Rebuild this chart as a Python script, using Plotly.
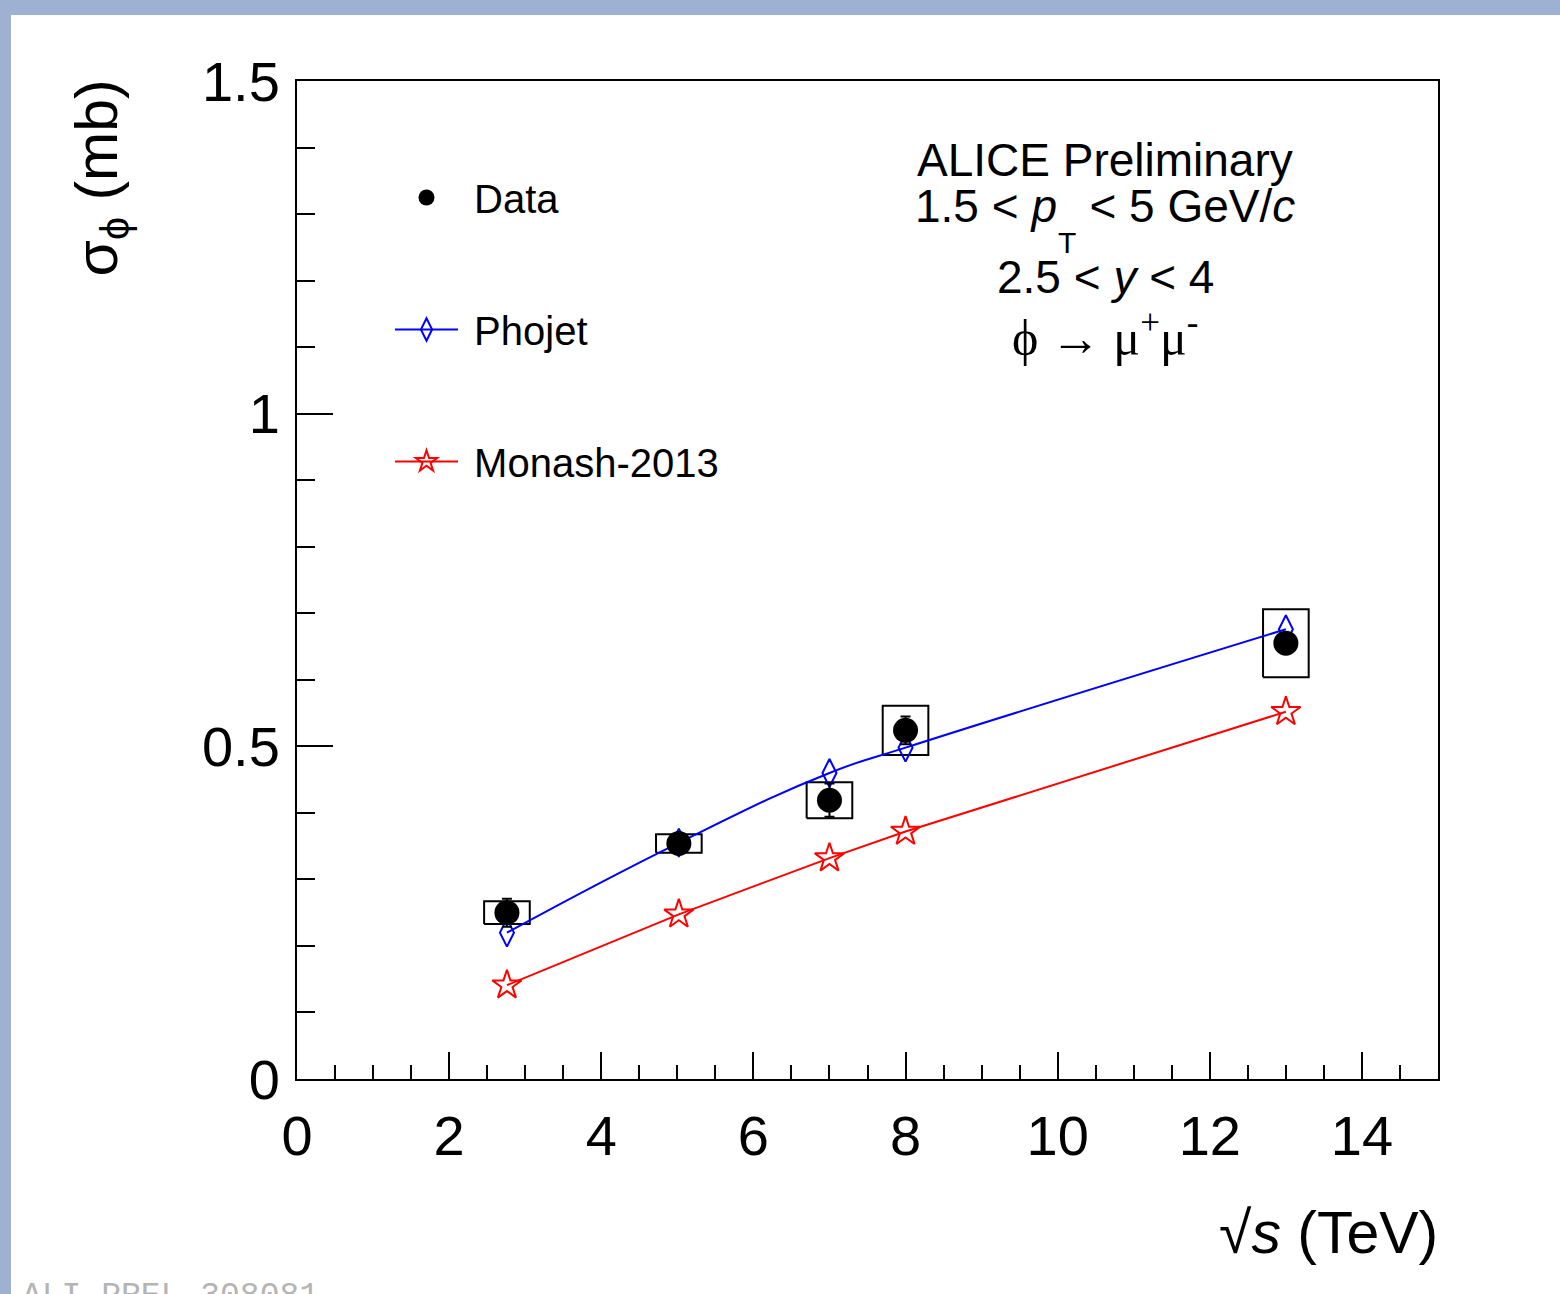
import plotly.graph_objects as go

# ---------------- data ----------------
sqrt_s = [2.76, 5.02, 7.0, 8.0, 13.0]
data_sigma = [0.250, 0.354, 0.419, 0.524, 0.655]
data_stat = [0.021, 0.012, 0.025, 0.021, 0.012]
data_syst = [0.017, 0.014, 0.027, 0.037, 0.051]
phojet_sigma = [0.220, 0.355, 0.460, 0.498, 0.676]
monash_sigma = [0.141, 0.2475, 0.332, 0.372, 0.552]

# ---------------- style ----------------
FONT = "Liberation Sans, Arial, Helvetica, sans-serif"
SERIF = "Liberation Serif, Times New Roman, serif"
BOX_HALF_WIDTH = 0.3
W, H = 1560, 1294
L, R, T, B = 297, 122, 81, 215
PW, PH = W - L - R, H - T - B
NB = "\u00a0"


def px_x(p):
    return (p - L) / PW


def px_y(p):
    return 1 - (p - T) / PH


# systematic boxes built from data arrays
bx, by = [], []
for x, y, s in zip(sqrt_s, data_sigma, data_syst):
    bx += [x - BOX_HALF_WIDTH, x + BOX_HALF_WIDTH, x + BOX_HALF_WIDTH, x - BOX_HALF_WIDTH, x - BOX_HALF_WIDTH, None]
    by += [y - s, y - s, y + s, y + s, y - s, None]

fig = go.Figure()

fig.add_trace(go.Scatter(
    x=bx, y=by, mode="lines", line=dict(color="black", width=2),
    showlegend=False, hoverinfo="skip"))

fig.add_trace(go.Scatter(
    x=sqrt_s, y=phojet_sigma, mode="lines+markers", name=NB + "Phojet",
    legendgroup="b", legendrank=2,
    line=dict(color="#0000ff", width=2, shape="spline", smoothing=1.3),
    marker=dict(symbol="diamond-tall-open", size=20, color="#0000ff", line=dict(width=2, color="#0000ff"))))

fig.add_trace(go.Scatter(
    x=sqrt_s, y=monash_sigma, mode="lines+markers", name=NB + "Monash-2013",
    legendgroup="c", legendrank=3,
    line=dict(color="#ff0000", width=2),
    marker=dict(symbol="star-open", size=22, color="#ff0000", line=dict(width=2, color="#ff0000"))))

fig.add_trace(go.Scatter(
    x=sqrt_s, y=data_sigma, mode="markers", name=NB + "Data",
    legendgroup="a", legendrank=1,
    marker=dict(symbol="circle", size=25, color="black"),
    error_y=dict(type="data", array=data_stat, color="black", thickness=2, width=5)))

axis_common = dict(
    showline=True, linewidth=2, linecolor="black", mirror=True,
    showgrid=False, zeroline=False, ticks="inside", tickwidth=2, tickcolor="black",
    tickfont=dict(family=FONT, size=56, color="black"),
)

fig.update_xaxes(range=[0, 15], tick0=0, dtick=2, ticklen=27, ticklabelstandoff=7,
                 minor=dict(dtick=0.5, ticklen=14, ticks="inside", tickwidth=2, tickcolor="black"),
                 **axis_common)
fig.update_yaxes(range=[0, 1.5], tick0=0, dtick=0.5, ticklen=36, ticklabelstandoff=4,
                 minor=dict(dtick=0.1, ticklen=18, ticks="inside", tickwidth=2, tickcolor="black"),
                 **axis_common)

hidden_T = '<sub><span style="color:rgba(0,0,0,0)">T</span></sub>'
annotations = [
    dict(text="ALICE Preliminary", x=px_x(1105), y=px_y(160), size=46, family=FONT),
    dict(text="1.5 < <i>p</i>" + hidden_T + " < 5 GeV/<i>c</i>", x=px_x(1105), y=px_y(210), size=46, family=FONT),
    dict(text="T", x=px_x(1067), y=px_y(242), size=30, family=FONT),
    dict(text="2.5 < <i>y</i> < 4", x=px_x(1105), y=px_y(277), size=46, family=FONT),
    dict(text="ϕ → μ<sup>+</sup>μ<sup>-</sup>", x=px_x(1105), y=px_y(334), size=50, family=SERIF),
]
ann_list = []
for a in annotations:
    ann_list.append(dict(text=a["text"], x=a["x"], y=a["y"], xref="paper", yref="paper",
                         xanchor="center", yanchor="middle", showarrow=False,
                         font=dict(family=a["family"], size=a["size"], color="black")))

# axis titles
ann_list.append(dict(text="σ<sub>ϕ</sub> (mb)", x=px_x(100), y=px_y(78), xref="paper", yref="paper",
                     xanchor="center", yanchor="top", textangle=-90, showarrow=False,
                     font=dict(family=FONT, size=59, color="black")))
ann_list.append(dict(text="√<i>s</i> (TeV)", x=px_x(1440), y=px_y(1233), xref="paper", yref="paper",
                     xanchor="right", yanchor="middle", showarrow=False,
                     font=dict(family=FONT, size=59, color="black")))
# preliminary id (partly cut at the bottom edge)
ann_list.append(dict(text="ALI-PREL-308081", x=px_x(20), y=px_y(1276), xref="paper", yref="paper",
                     xanchor="left", yanchor="top", showarrow=False,
                     font=dict(family="Liberation Mono, Courier New, monospace", size=33, color="#b4b4b4")))

# light-blue frame strips (top and left)
BLUE = "#9eb1d2"
shapes = [
    dict(type="rect", xref="paper", yref="paper", x0=px_x(0), x1=px_x(W), y0=px_y(0), y1=px_y(15),
         fillcolor=BLUE, line=dict(width=0), layer="below"),
    dict(type="rect", xref="paper", yref="paper", x0=px_x(0), x1=px_x(11), y0=px_y(0), y1=px_y(H),
         fillcolor=BLUE, line=dict(width=0), layer="below"),
]

fig.update_layout(
    width=W, height=H,
    margin=dict(l=L, r=R, t=T, b=B, pad=0),
    paper_bgcolor="white", plot_bgcolor="white",
    showlegend=True,
    legend=dict(x=px_x(390), y=px_y(165), xanchor="left", yanchor="top",
                bgcolor="rgba(0,0,0,0)", borderwidth=0,
                font=dict(family=FONT, size=40, color="black"),
                tracegroupgap=77, traceorder="grouped", itemwidth=63),
    annotations=ann_list,
    shapes=shapes,
)

fig.write_html("out.html")
